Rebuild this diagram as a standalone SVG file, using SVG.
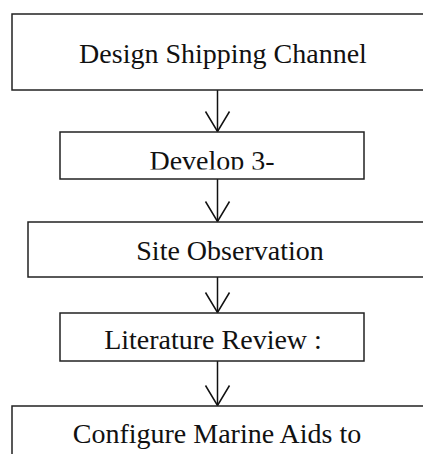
<svg xmlns="http://www.w3.org/2000/svg" width="423" height="454" viewBox="0 0 423 454">
  <style>
    .box { fill: #ffffff; stroke: #222222; stroke-width: 1.5; }
    .label { font-family: "Liberation Serif", "Times New Roman", serif; font-size: 28px; fill: #111111; text-anchor: middle; }
    .flow { fill: none; stroke: #111111; stroke-width: 1.5; }
  </style>
  <defs>
    <!-- open V arrowhead: 20px deep, 24px wide -->
    <marker id="vee" markerUnits="userSpaceOnUse" markerWidth="26" markerHeight="28" refX="22" refY="13" orient="auto" viewBox="0 0 26 26">
      <path d="M2,1 L22,13 L2,25" fill="none" stroke="#111111" stroke-width="1.5"/>
    </marker>
    <clipPath id="clip-develop">
      <rect x="60" y="132" width="304" height="37.5"/>
    </clipPath>
  </defs>
  <rect width="423" height="454" fill="#ffffff"/>

  <g id="connectors">
    <line class="flow" x1="217.5" y1="90" x2="217.5" y2="131.5" marker-end="url(#vee)"/>
    <line class="flow" x1="217.5" y1="179" x2="217.5" y2="221.5" marker-end="url(#vee)"/>
    <line class="flow" x1="217.5" y1="277" x2="217.5" y2="312.5" marker-end="url(#vee)"/>
    <line class="flow" x1="217.5" y1="361" x2="217.5" y2="405.5" marker-end="url(#vee)"/>
  </g>

  <g id="node-design">
    <rect class="box" x="12" y="14" width="430" height="76"/>
    <text class="label" x="223" y="63">Design Shipping Channel</text>
  </g>

  <g id="node-develop">
    <rect class="box" x="60" y="132" width="304" height="47"/>
    <text class="label" x="212" y="170" clip-path="url(#clip-develop)">Develop 3-</text>
  </g>

  <g id="node-site">
    <rect class="box" x="28" y="222" width="420" height="55"/>
    <text class="label" x="230" y="260">Site Observation</text>
  </g>

  <g id="node-literature">
    <rect class="box" x="60" y="313" width="304" height="48"/>
    <text class="label" x="213" y="349">Literature Review :</text>
  </g>

  <g id="node-configure">
    <rect class="box" x="12" y="406" width="430" height="60"/>
    <text class="label" x="217" y="443">Configure Marine Aids to</text>
  </g>
</svg>
